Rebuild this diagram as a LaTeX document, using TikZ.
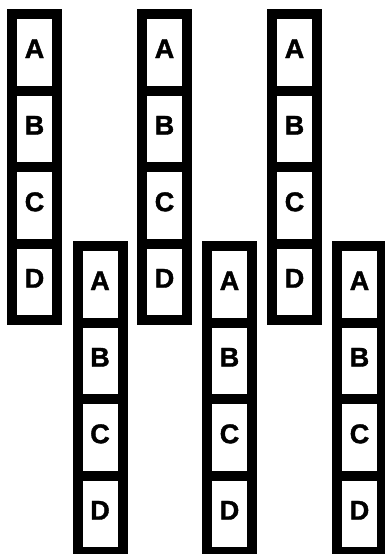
\documentclass[tikz,border=0pt]{standalone}
\usepackage{fontspec}
\setsansfont{Liberation Sans}[BoldFeatures={FakeBold=1.5}]
\usetikzlibrary{positioning}

\begin{document}
\begin{tikzpicture}[
  x=1pt,y=-1pt,
  cell/.style={draw,line width=10pt,fill=white,minimum width=45pt,minimum height=76.5pt,
    inner sep=0pt,outer sep=0pt,text depth=7pt,font=\sffamily\bfseries\fontsize{27}{32}\selectfont},
  node distance=0pt
]
\useasboundingbox (0,0) rectangle (385,554);
% three strips up, three strips down
\foreach \col/\x/\y in {1/34.5/52.25, 2/100/284.25, 3/164.5/52.25, 4/229.5/284.25, 5/294.5/52.25, 6/359.5/284.25} {
  \node[cell] (c\col a) at (\x,\y) {A};
  \node[cell,below=of c\col a] (c\col b) {B};
  \node[cell,below=of c\col b] (c\col c) {C};
  \node[cell,below=of c\col c] (c\col d) {D};
}
\end{tikzpicture}
\end{document}
